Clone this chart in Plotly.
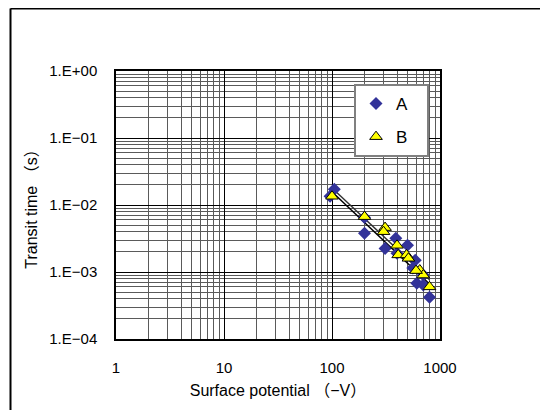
import numpy as np
import plotly.graph_objects as go

# Data
a_x = [105, 96, 200, 200, 310, 390, 500, 400, 590, 560, 610, 700, 800, 700]
a_y = [0.0172, 0.0135, 0.0038, 0.0065, 0.00225, 0.0032, 0.0025, 0.0019, 0.0015, 0.00115, 0.00068, 0.00064, 0.00042, 0.0009]
b_x = [100, 200, 310, 300, 400, 410, 490, 510, 650, 700, 800, 600]
b_y = [0.0135, 0.0067, 0.0046, 0.0040, 0.0025, 0.0018, 0.0018, 0.0016, 0.00107, 0.0009, 0.0006, 0.00105]

x_ticks = [1, 10, 100, 1000]
x_ticklabels = ["1", "10", "100", "1000"]
y_ticks = [1, 0.1, 0.01, 0.001, 0.0001]
y_ticklabels = ["1.E+00", "1.E\u221201", "1.E\u221202", "1.E\u221203", "1.E\u221204"]

FONT = "Liberation Sans, Arial, Noto Sans CJK JP, sans-serif"


def power_fit(xs, ys):
    lx, ly = np.log10(xs), np.log10(ys)
    k, c = np.polyfit(lx, ly, 1)
    xx = np.array([min(xs), max(xs)], dtype=float)
    return xx, 10 ** (c + k * np.log10(xx))


fig = go.Figure()

fa_x, fa_y = power_fit(a_x, a_y)
fb_x, fb_y = power_fit(b_x, b_y)
fig.add_trace(go.Scatter(x=fa_x, y=fa_y, mode="lines", line=dict(color="black", width=1.5),
                         showlegend=False, hoverinfo="skip"))
fig.add_trace(go.Scatter(x=fb_x, y=fb_y, mode="lines", line=dict(color="#333333", width=1.5),
                         showlegend=False, hoverinfo="skip"))

fig.add_trace(go.Scatter(x=a_x, y=a_y, mode="markers", name="A\u00a0\u00a0\u00a0", legendgroup="A",
                         marker=dict(symbol="diamond", size=10, color="#333399",
                                     line=dict(width=0))))
fig.add_trace(go.Scatter(x=b_x, y=b_y, mode="markers", name="B\u00a0\u00a0\u00a0", legendgroup="B",
                         marker=dict(symbol="triangle-up", size=11, color="#FFFF00",
                                     line=dict(color="black", width=1))))

minor_x = [m * 10 ** e for e in range(0, 3) for m in range(2, 10)]
minor_y = [m * 10 ** e for e in range(-4, 0) for m in range(2, 10)]

fig.update_xaxes(
    type="log", range=[0, 3],
    tickmode="array", tickvals=x_ticks, ticktext=x_ticklabels,
    showgrid=True, gridcolor="black", gridwidth=1,
    minor=dict(tickmode="array", tickvals=minor_x, showgrid=True, gridcolor="#5a5a5a", gridwidth=1),
    showline=True, linecolor="black", linewidth=1.5, mirror=True,
    ticks="", ticklabelstandoff=14,
    tickfont=dict(family=FONT, size=15, color="black"),
    title=dict(text="Surface potential \uff08\u2212V\uff09", font=dict(family=FONT, size=16, color="black"), standoff=10),
    zeroline=False,
)
fig.update_yaxes(
    type="log", range=[-4, 0],
    tickmode="array", tickvals=y_ticks, ticktext=y_ticklabels,
    showgrid=True, gridcolor="black", gridwidth=1,
    minor=dict(tickmode="array", tickvals=minor_y, showgrid=True, gridcolor="#5a5a5a", gridwidth=1),
    showline=True, linecolor="black", linewidth=1.5, mirror=True,
    ticks="", ticklabelstandoff=14,
    tickfont=dict(family=FONT, size=15, color="black"),
    title=dict(text="Transit time \uff08s\uff09", font=dict(family=FONT, size=16, color="black"), standoff=8),
    zeroline=False,
)

# page body has an 8px margin; figure coordinates are offset by it
OFF = 8
W, H = 548 - OFF, 410 - OFF
L, T = 116 - OFF, 71 - OFF
R = W - (440 - OFF)
B = H - (339 - OFF)
pw, ph = W - L - R, H - T - B


def px(x):
    return (x - OFF - L) / pw


def py(y):
    return (H - B - (y - OFF)) / ph


fig.update_layout(
    width=W, height=H,
    margin=dict(l=L, r=R, t=T, b=B),
    paper_bgcolor="white", plot_bgcolor="white",
    font=dict(family=FONT, size=14, color="black"),
    legend=dict(x=px(354), y=py(84), xanchor="left", yanchor="top",
                bgcolor="white", bordercolor="#808080", borderwidth=2,
                font=dict(family=FONT, size=17, color="black"),
                tracegroupgap=8, itemwidth=30),
    shapes=[
        dict(type="line", xref="paper", yref="paper", x0=px(10.5), y0=py(8.5), x1=px(548), y1=py(8.5),
             line=dict(color="black", width=2)),
        dict(type="line", xref="paper", yref="paper", x0=px(10.5), y0=py(8.5), x1=px(10.5), y1=py(410),
             line=dict(color="black", width=2)),
    ],
)

fig.write_html("out.html")
